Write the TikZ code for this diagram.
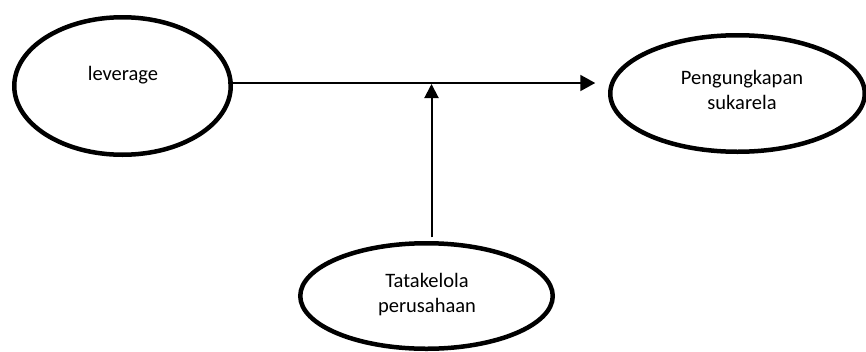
\documentclass[tikz,border=0pt]{standalone}
\usepackage{fontspec}
\setmainfont{Carlito}
\usetikzlibrary{shapes.geometric,arrows.meta}
\tikzset{
  oval/.style={ellipse, draw=black, line width=4.5pt, inner sep=0pt, outer sep=0pt},
  lbl/.style={align=center, inner sep=0pt, font=\fontsize{20.5}{25}\selectfont},
  conn/.style={draw=black, line width=2pt, -{Triangle[length=15pt,width=16pt]}},
}
\begin{document}
\begin{tikzpicture}[x=1pt,y=1pt]
  \useasboundingbox (0,0) rectangle (866,-351);

  % variables
  \node[oval, minimum width=216.5pt, minimum height=137.5pt] (lev) at (122.5,-86) {};
  \node[oval, minimum width=254.5pt, minimum height=116.5pt] (puk) at (737.5,-93.5) {};
  \node[oval, minimum width=252.5pt, minimum height=105.5pt] (tk)  at (426.5,-296) {};

  % their labels
  \node[lbl] (levtxt) at (123,-75)   {leverage};
  \node[lbl] (puktxt) at (742,-89.5) {Pengungkapan\\sukarela};
  \node[lbl] (tktxt)  at (427,-295)  {Tatakelola\\perusahaan};

  % main path and the moderating arrow
  \coordinate (hit) at (431.5,-83);
  \draw[conn] ([xshift=-3pt]lev.east |- hit) -- ([xshift=-15pt]puk.west |- hit);
  \draw[conn, -{Triangle[length=14pt,width=14pt]}] ([yshift=6pt]tk.north -| hit) -- ([yshift=-1pt]hit);
\end{tikzpicture}
\end{document}
